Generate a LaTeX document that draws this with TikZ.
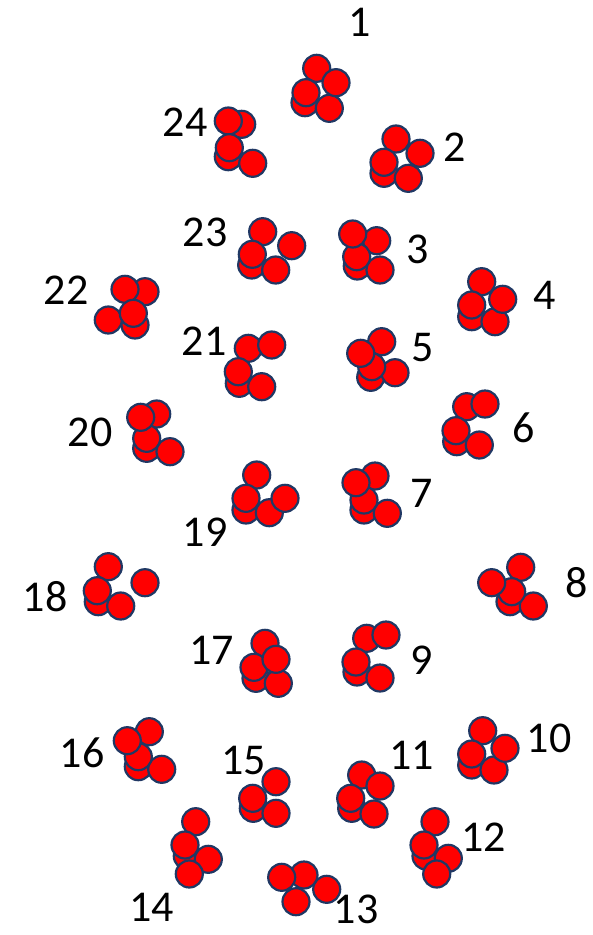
\documentclass[tikz,border=0pt]{standalone}
\usepackage{fontspec}
\setmainfont{Carlito}
\usepackage{xcolor}
\definecolor{ballRed} {HTML}{FF0000}
\definecolor{ballEdge}{HTML}{203864}
\tikzset{
  font=\fontsize{44}{50}\selectfont,
  ball/.style={circle,draw=ballEdge,fill=ballRed,line width=2.2pt,minimum size=27pt,inner sep=0pt},
  num/.style={text=black,inner sep=0pt},
}
\begin{document}
\begin{tikzpicture}[x=1pt,y=-1pt]

\useasboundingbox (0,0) rectangle (593,935);

% clusters, back circle first
\foreach \x/\y [count=\k] in {305/102.7,329.3/108.3,316.7/68.3,336/82.7,306/92.7}
  \node[ball] (b1-\k) at (\x,\y) {};
\foreach \x/\y [count=\k] in {384/173.3,396/139,408.3/178.3,420/153.3,384/162.3}
  \node[ball] (b2-\k) at (\x,\y) {};
\foreach \x/\y [count=\k] in {357.3/266,376.7/240.7,380/270,356.7/256.7,352.7/234}
  \node[ball] (b3-\k) at (\x,\y) {};
\foreach \x/\y [count=\k] in {471.7/316.7,481.7/281.7,495/321.7,502.7/299.3,471.7/305}
  \node[ball] (b4-\k) at (\x,\y) {};
\foreach \x/\y [count=\k] in {381.7/341.7,370.7/377.3,395/372.7,371.7/366.7,360.7/353.3}
  \node[ball] (b5-\k) at (\x,\y) {};
\foreach \x/\y [count=\k] in {466.7/406.7,485/404,456.7/441.7,479.3/445,456/430.7}
  \node[ball] (b6-\k) at (\x,\y) {};
\foreach \x/\y [count=\k] in {375/476,364/510,387.3/513.3,364/500,356/482.7}
  \node[ball] (b7-\k) at (\x,\y) {};
\foreach \x/\y [count=\k] in {520.7/567.3,510/601.7,533.3/606,511.7/591.7,491.7/582.7}
  \node[ball] (b8-\k) at (\x,\y) {};
\foreach \x/\y [count=\k] in {366.7/638.3,386/635,357/672,380/678,356/662}
  \node[ball] (b9-\k) at (\x,\y) {};
\foreach \x/\y [count=\k] in {471.7/765,482.7/730.7,494/770,505/748.3,471.7/754}
  \node[ball] (b10-\k) at (\x,\y) {};
\foreach \x/\y [count=\k] in {351.7/808.3,361.7/775,374/814,380/786,350.7/798.3}
  \node[ball] (b11-\k) at (\x,\y) {};
\foreach \x/\y [count=\k] in {426/856,448.3/858.3,435/821.7,424/845,436.7/874}
  \node[ball] (b12-\k) at (\x,\y) {};
\foreach \x/\y [count=\k] in {326.7/889.3,304/875,281.7/877.3,296/901.7}
  \node[ball] (b13-\k) at (\x,\y) {};
\foreach \x/\y [count=\k] in {187.3/856,208.3/859.3,195.7/821.7,185/845,189.3/874}
  \node[ball] (b14-\k) at (\x,\y) {};
\foreach \x/\y [count=\k] in {253.3/808.3,276/781.7,276/813.3,252.7/798.3}
  \node[ball] (b15-\k) at (\x,\y) {};
\foreach \x/\y [count=\k] in {149.3/731.7,138.3/766.7,161.7/769.3,138.3/756.7,127.3/740.7}
  \node[ball] (b16-\k) at (\x,\y) {};
\foreach \x/\y [count=\k] in {265/643.3,256/678.3,278.3/683.3,254/667.3,276/659.3}
  \node[ball] (b17-\k) at (\x,\y) {};
\foreach \x/\y [count=\k] in {98.3/601.7,108.3/566.7,120.7/606,97.3/590.7,145/582.7}
  \node[ball] (b18-\k) at (\x,\y) {};
\foreach \x/\y [count=\k] in {246/510,256.7/475,269.3/512.7,285/498.3,246/498.3}
  \node[ball] (b19-\k) at (\x,\y) {};
\foreach \x/\y [count=\k] in {156.7/414,146.7/448.3,170/451.7,146.7/438.3,140.7/417.3}
  \node[ball] (b20-\k) at (\x,\y) {};
\foreach \x/\y [count=\k] in {239.3/383.3,248.3/348.3,261.7/386.7,271.7/345,238.3/371.7}
  \node[ball] (b21-\k) at (\x,\y) {};
\foreach \x/\y [count=\k] in {145/291.7,125/289.3,135/325,108.3/320,133.3/313.3}
  \node[ball] (b22-\k) at (\x,\y) {};
\foreach \x/\y [count=\k] in {251.7/265,262.7/231.7,275.7/270,291.7/245.7,252.3/254.3}
  \node[ball] (b23-\k) at (\x,\y) {};
\foreach \x/\y [count=\k] in {241.7/124.3,228.3/121,228.3/156.7,252.7/163.3,229.3/147.7}
  \node[ball] (b24-\k) at (\x,\y) {};

% numbers
\node[num] (n1)  at (360,22)    {1};
\node[num] (n2)  at (455,147)   {2};
\node[num] (n3)  at (418,249)   {3};
\node[num] (n4)  at (545,295)   {4};
\node[num] (n5)  at (423,348)   {5};
\node[num] (n6)  at (524,428)   {6};
\node[num] (n7)  at (422,493)   {7};
\node[num] (n8)  at (577,583)   {8};
\node[num] (n9)  at (422,660)   {9};
\node[num] (n10) at (549,738)   {10};
\node[num] (n11) at (411.5,755) {11};
\node[num] (n12) at (483.5,837) {12};
\node[num] (n13) at (356,909)   {13};
\node[num] (n14) at (151.5,907) {14};
\node[num] (n15) at (243.5,760) {15};
\node[num] (n16) at (82,753)    {16};
\node[num] (n17) at (211.5,650) {17};
\node[num] (n18) at (45,597)    {18};
\node[num] (n19) at (205,532)   {19};
\node[num] (n20) at (90,432)    {20};
\node[num] (n21) at (204,341)   {21};
\node[num] (n22) at (66,290)    {22};
\node[num] (n23) at (205,232)   {23};
\node[num] (n24) at (185,122)   {24};

\end{tikzpicture}
\end{document}
